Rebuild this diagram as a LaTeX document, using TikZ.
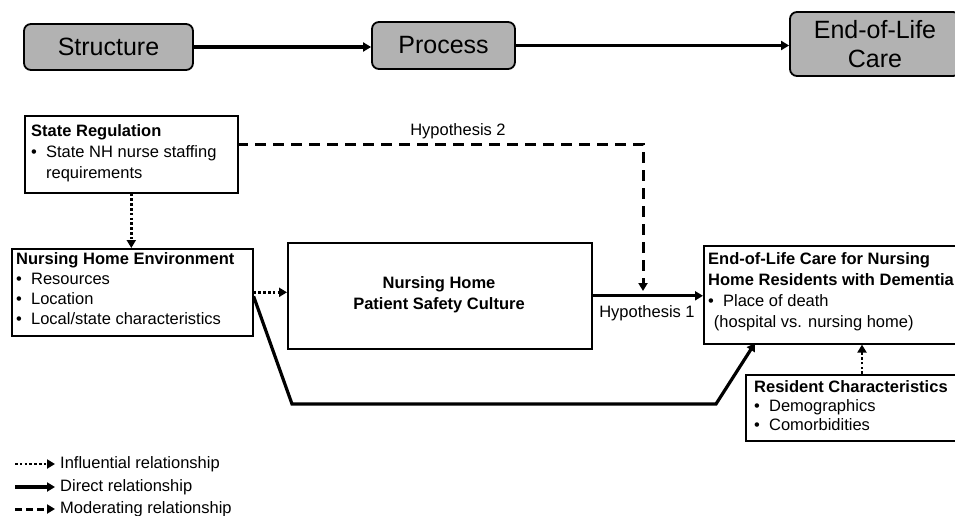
\documentclass[tikz,border=0pt]{standalone}
\usepackage{fontspec}
\setmainfont{Liberation Sans}
\usetikzlibrary{arrows.meta}
\begin{document}
\begin{tikzpicture}[x=1pt,y=-1pt,
  topbox/.style={draw=black, line width=1.8pt, fill=gray!60, rounded corners=7pt, inner sep=0pt, font=\fontsize{25}{29}\selectfont, align=center},
  plainbox/.style={draw=black, line width=1.6pt, inner sep=0pt},
  txt/.style={font=\fontsize{16.5}{21}\selectfont, align=left, anchor=north west, inner sep=0pt},
  lbl/.style={font=\fontsize{16.5}{21}\selectfont, inner sep=0pt},
  tip/.style={-{Triangle[length=8pt,width=9pt]}},
  direct/.style={line width=3.2pt, tip},
  influ/.style={line width=2.8pt, dash pattern=on 2.6pt off 2.2pt, tip},
  moder/.style={line width=3pt, dash pattern=on 11pt off 7pt, tip}
]
\useasboundingbox (0,0) rectangle (955,516);
\clip (0,0) rectangle (955,516);

% top row
\node[topbox, minimum width=169pt, minimum height=46pt] (str) at (108.5,47) {Structure};
\node[topbox, minimum width=143pt, minimum height=47pt] (proc) at (443.5,45.5) {Process};
\node[topbox, minimum width=170pt, minimum height=64pt] (eol) at (875,44) {End-of-Life\\Care};
\draw[direct] (str.east) -- (str.east -| proc.west);
\draw[direct] (proc.east) -- (proc.east -| eol.west);

% boxes
\node[plainbox, minimum width=213pt, minimum height=77pt, anchor=north west] (sr) at (24,115) {};
\node[txt] (srt) at (31,124) {\textbf{State Regulation}\\• \ State NH nurse staffing\\\phantom{• \ }requirements};

\node[plainbox, minimum width=241pt, minimum height=87pt, anchor=north west] (nhe) at (11,248) {};
\node[txt, font=\fontsize{16.5}{20}\selectfont] (nhet) at (16,252) {\textbf{Nursing Home Environment}\\• \ Resources\\• \ Location\\• \ Local/state characteristics};

\node[plainbox, minimum width=304pt, minimum height=106pt, anchor=north west] (psc) at (287,242) {};
\node[lbl, align=center, font=\bfseries\fontsize{16.5}{21}\selectfont] (psct) at (439,295) {Nursing Home\\Patient Safety Culture};

\node[plainbox, minimum width=260pt, minimum height=98pt, anchor=north west] (eold) at (703,245) {};
\node[txt] (eoldt) at (708,252) {\textbf{End-of-Life Care for Nursing}\\\textbf{Home Residents with Dementia}\\• \ Place of death\\\phantom{•}(hospital vs. nursing home)};

\node[plainbox, minimum width=220pt, minimum height=66pt, anchor=north west] (rc) at (745,374) {};
\node[txt, font=\fontsize{16.5}{19}\selectfont] (rct) at (754,380) {\textbf{Resident Characteristics}\\• \ Demographics\\• \ Comorbidities};

% connectors
\draw[influ] (sr.south) -- (sr.south |- nhe.north);
\draw[influ] (nhe.east) -- (nhe.east -| psc.west);
\draw[direct] (psc.east) -- (psc.east -| eold.west);
\node[lbl, anchor=north] (h1) at (647,305) {Hypothesis 1};

\coordinate (h2a) at (237,144);
\coordinate (h2b) at (643,144);
\coordinate (h2c) at (643,291);
\draw[moder] (h2a) -- (h2b) -- (h2c);
\node[lbl] (h2) at (458,131) {Hypothesis 2};

\coordinate (b1) at (292,404);
\coordinate (b2) at (716,404);
\coordinate (b3) at (755,343);
\draw[direct, line join=miter] ([yshift=-4pt]nhe.east) -- (b1) -- (b2) -- (b3);

\coordinate (rcx) at (862,0);
\draw[influ] (rc.north -| rcx) -- (eold.south -| rcx);

% legend
\coordinate (l1a) at (15,464); \coordinate (l1b) at (55,464);
\coordinate (l2a) at (15,487); \coordinate (l2b) at (55,487);
\coordinate (l3a) at (15,509); \coordinate (l3b) at (55,509);
\draw[influ] (l1a) -- (l1b);
\draw[direct] (l2a) -- (l2b);
\draw[line width=3pt, dash pattern=on 7pt off 4pt, tip] (l3a) -- (l3b);
\node[lbl, anchor=west] (lt1) at (60,464) {Influential relationship};
\node[lbl, anchor=west] (lt2) at (60,487) {Direct relationship};
\node[lbl, anchor=west] (lt3) at (60,509) {Moderating relationship};
\end{tikzpicture}
\end{document}
